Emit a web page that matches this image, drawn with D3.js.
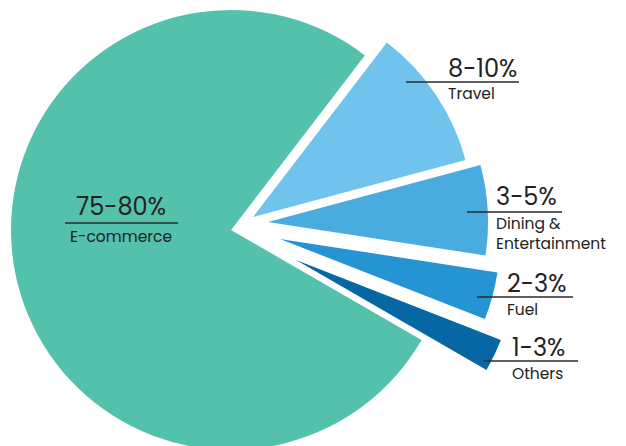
<!DOCTYPE html>
<html>
<head>
<meta charset="utf-8">
<script src="https://cdn.jsdelivr.net/npm/d3@7"></script>
<style>
  body { margin: 0; background: #fff; }
  svg { display: block; font-family: "Poppins", "Inter", "Lato", sans-serif; }
</style>
</head>
<body>
<div id="chart"></div>
<script>
// share of card spend by category (approx. midpoints)
var categories = ["E-commerce", "Travel", "Dining & Entertainment", "Fuel", "Others"];
var shares = [77, 10.4, 6.6, 3.5, 2.4];
var rangeLabels = ["75-80%", "8-10%", "3-5%", "2-3%", "1-3%"];
var nameLines = [["E-commerce"], ["Travel"], ["Dining &", "Entertainment"], ["Fuel"], ["Others"]];

var colors = ["#54c1ad", "#6fc3ec", "#4aabdf", "#2594d2", "#0767a4"];

function init() {
    var w = 626;
    var h = 446;
    var cx = 231, cy = 230;
    var radius = 220;
    // how far each slice is pulled out of the pie (dx, dy)
    var explode = [[0, 0], [22, -13], [37, -8], [49, 9], [65, 30]];

    var svg = d3.select("#chart")
                .append("svg")
                .attr("width", w)
                .attr("height", h);

    var pie = d3.pie()
                .sort(null)
                .startAngle(120 * Math.PI / 180)
                .endAngle(480 * Math.PI / 180);

    var arc = d3.arc()
                .innerRadius(0)
                .outerRadius(radius);

    var arcs = pie(shares);

    var g = svg.append("g")
               .attr("transform", "translate(" + cx + "," + cy + ")");

    g.selectAll("path")
        .data(arcs)
        .enter()
        .append("path")
        .attr("d", arc)
        .attr("fill", function(d, i) { return colors[i]; })
        .attr("transform", function(d, i) {
            return "translate(" + explode[i][0] + "," + explode[i][1] + ")";
        });

    // label layout: text x, underline x1/x2 and y, baselines of percent and name
    var labelPos = [
        { x: 121, x1: 65, x2: 178, ly: 223, y: 215, sy: 242, anchor: "middle" },
        { x: 448, x1: 406, x2: 519, ly: 82, y: 77, sy: 99, anchor: "start" },
        { x: 496, x1: 467, x2: 562, ly: 212, y: 205, sy: 229, anchor: "start" },
        { x: 507, x1: 477, x2: 573, ly: 297, y: 292, sy: 315, anchor: "start" },
        { x: 512, x1: 483, x2: 578, ly: 361, y: 356, sy: 379, anchor: "start" }
    ];

    var labels = svg.selectAll("g.label")
        .data(categories)
        .enter()
        .append("g")
        .attr("class", "label");

    labels.append("line")
        .attr("x1", function(d, i) { return labelPos[i].x1; })
        .attr("x2", function(d, i) { return labelPos[i].x2; })
        .attr("y1", function(d, i) { return labelPos[i].ly; })
        .attr("y2", function(d, i) { return labelPos[i].ly; })
        .attr("stroke", "#2a2a2a")
        .attr("stroke-width", 1.4);

    labels.append("text")
        .attr("x", function(d, i) { return labelPos[i].x; })
        .attr("y", function(d, i) { return labelPos[i].y; })
        .attr("text-anchor", function(d, i) { return labelPos[i].anchor; })
        .attr("font-size", 24)
        .attr("fill", "#222")
        .text(function(d, i) { return rangeLabels[i]; });

    labels.each(function(d, i) {
        var sel = d3.select(this);
        nameLines[i].forEach(function(line, j) {
            sel.append("text")
                .attr("x", labelPos[i].x)
                .attr("y", labelPos[i].sy + j * 20)
                .attr("text-anchor", labelPos[i].anchor)
                .attr("font-size", 15.5)
                .attr("fill", "#222")
                .text(line);
        });
    });
}
window.onload = init;
</script>
</body>
</html>
